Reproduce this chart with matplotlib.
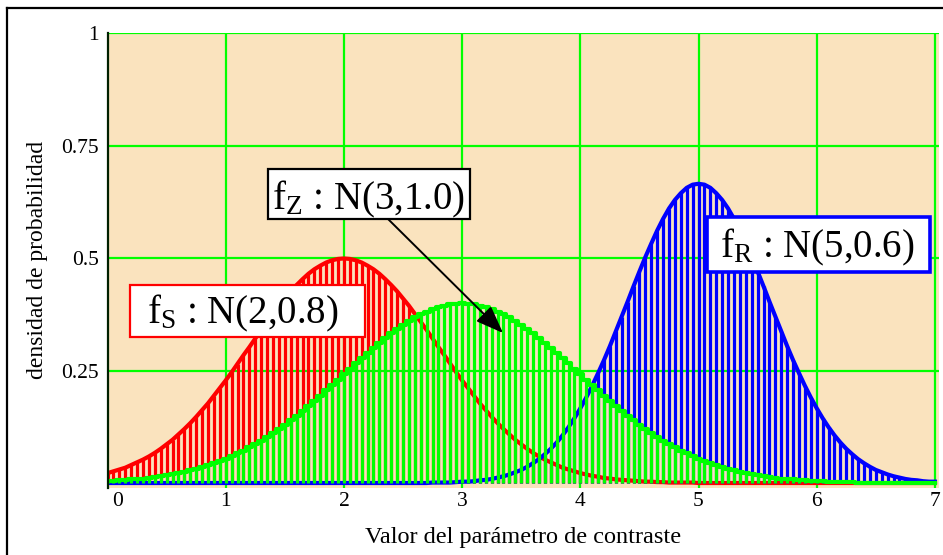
import numpy as np
import matplotlib
matplotlib.use("Agg")
import matplotlib.pyplot as plt
from matplotlib.lines import Line2D
from matplotlib.patches import Rectangle
from matplotlib.transforms import ScaledTranslation

plt.rcParams['font.family'] = ['Liberation Serif', 'DejaVu Serif']
plt.rcParams['mathtext.fontset'] = 'custom'
plt.rcParams['mathtext.rm'] = 'Liberation Serif'
plt.rcParams['mathtext.it'] = 'Liberation Serif:italic'

# Valores del parámetro de contraste (de 0 a 7 cada 0.05)
x_ini = 0.0
x_paso = 0.05

# f_S : N(2,0.8)
fS = [0.022, 0.026, 0.030, 0.034, 0.040, 0.046, 0.052, 0.059,
      0.067, 0.076, 0.086, 0.096, 0.108, 0.120, 0.133, 0.147, 0.162, 0.177,
      0.194, 0.211, 0.228, 0.246, 0.265, 0.284, 0.302, 0.321, 0.340, 0.358,
      0.376, 0.394, 0.410, 0.426, 0.440, 0.453, 0.465, 0.475, 0.483, 0.490,
      0.495, 0.498, 0.499, 0.498, 0.495, 0.490, 0.483, 0.475, 0.465, 0.453,
      0.440, 0.426, 0.410, 0.394, 0.376, 0.358, 0.340, 0.321, 0.302, 0.284,
      0.265, 0.246, 0.228, 0.211, 0.194, 0.177, 0.162, 0.147, 0.133, 0.120,
      0.108, 0.096, 0.086, 0.076, 0.067, 0.059, 0.052, 0.046, 0.040, 0.034,
      0.030, 0.026, 0.022, 0.019, 0.016, 0.014, 0.011, 0.010, 0.008, 0.007,
      0.006, 0.005, 0.004, 0.003, 0.003, 0.002, 0.002, 0.001, 0.001, 0.001,
      0.001, 0.001, 0.000, 0.000, 0.000, 0.000, 0.000, 0.000, 0.000, 0.000,
      0.000, 0.000, 0.000, 0.000, 0.000, 0.000, 0.000, 0.000, 0.000, 0.000,
      0.000, 0.000, 0.000, 0.000, 0.000, 0.000, 0.000, 0.000, 0.000, 0.000,
      0.000, 0.000, 0.000, 0.000, 0.000, 0.000, 0.000, 0.000, 0.000, 0.000,
      0.000, 0.000, 0.000]

# f_Z : N(3,1.0)
fZ = [0.004, 0.005, 0.006, 0.007, 0.008, 0.009, 0.010, 0.012,
      0.014, 0.015, 0.018, 0.020, 0.022, 0.025, 0.028, 0.032, 0.035, 0.040,
      0.044, 0.049, 0.054, 0.060, 0.066, 0.072, 0.079, 0.086, 0.094, 0.102,
      0.111, 0.120, 0.130, 0.139, 0.150, 0.160, 0.171, 0.183, 0.194, 0.206,
      0.218, 0.230, 0.242, 0.254, 0.266, 0.278, 0.290, 0.301, 0.312, 0.323,
      0.333, 0.343, 0.352, 0.361, 0.368, 0.375, 0.381, 0.387, 0.391, 0.394,
      0.397, 0.398, 0.399, 0.398, 0.397, 0.394, 0.391, 0.387, 0.381, 0.375,
      0.368, 0.361, 0.352, 0.343, 0.333, 0.323, 0.312, 0.301, 0.290, 0.278,
      0.266, 0.254, 0.242, 0.230, 0.218, 0.206, 0.194, 0.183, 0.171, 0.160,
      0.150, 0.139, 0.130, 0.120, 0.111, 0.102, 0.094, 0.086, 0.079, 0.072,
      0.066, 0.060, 0.054, 0.049, 0.044, 0.040, 0.035, 0.032, 0.028, 0.025,
      0.022, 0.020, 0.018, 0.015, 0.014, 0.012, 0.010, 0.009, 0.008, 0.007,
      0.006, 0.005, 0.004, 0.004, 0.003, 0.003, 0.002, 0.002, 0.002, 0.001,
      0.001, 0.001, 0.001, 0.001, 0.001, 0.001, 0.000, 0.000, 0.000, 0.000,
      0.000, 0.000, 0.000]

# f_R : N(5,0.6)
fR = [0.000] * 55 + [
      0.001, 0.001, 0.001, 0.001, 0.002, 0.003, 0.003, 0.004, 0.006, 0.007,
      0.009, 0.012, 0.015, 0.019, 0.024, 0.029, 0.036, 0.044, 0.053, 0.064,
      0.076, 0.090, 0.106, 0.124, 0.144, 0.166, 0.190, 0.216, 0.244, 0.273,
      0.304, 0.337, 0.370, 0.403, 0.437, 0.470, 0.502, 0.532, 0.561, 0.587,
      0.610, 0.629, 0.644, 0.656, 0.663, 0.665, 0.663, 0.656, 0.644, 0.629,
      0.610, 0.587, 0.561, 0.532, 0.502, 0.470, 0.437, 0.403, 0.370, 0.337,
      0.304, 0.273, 0.244, 0.216, 0.190, 0.166, 0.144, 0.124, 0.106, 0.090,
      0.076, 0.064, 0.053, 0.044, 0.036, 0.029, 0.024, 0.019, 0.015, 0.012,
      0.009, 0.007, 0.006, 0.004, 0.003, 0.003]

x = x_ini + x_paso * np.arange(len(fZ))

fondo = '#FAE3BE'
verde = '#00FF00'
W, H = 943, 555

fig = plt.figure(figsize=(9.43, 5.55), dpi=100)
ax = fig.add_axes([107.5 / W, 0.1216, 831 / W, 0.8189])
ax.set_facecolor(fondo)

# Rejilla verde
for xv in range(1, 8):
    ax.axvline(xv, color=verde, lw=1.6, zorder=1)
for yv in [0.25, 0.5, 0.75, 1.0]:
    ax.axhline(yv, color=verde, lw=1.6, zorder=1)

# Series (barras verticales + curva)
series = [(fS, '#FF0000', 2, 'default'), (fR, '#0000FF', 3, 'default'),
          (fZ, verde, 4, 'steps-mid')]
for y, c, z, ds in series:
    ax.vlines(x, 0, y, colors=c, lw=2.3, zorder=z)
    ax.plot(x, y, color=c, lw=3.0, drawstyle=ds, zorder=z)

ax.set_xlim(0, 7.03)
ax.set_ylim(-0.01, 1.0)
ax.set_xticks(range(0, 8))
ax.set_yticks([0.25, 0.5, 0.75, 1.0])
ax.set_yticklabels(['0.25', '0.5', '0.75', '1'])
ax.tick_params(length=0, labelsize=15.5, pad=6)
ax.tick_params(axis='x', pad=3)
# el "0" queda desplazado a la derecha del eje
etq0 = ax.get_xticklabels()[0]
etq0.set_transform(etq0.get_transform() + ScaledTranslation(0.105, 0, fig.dpi_scale_trans))
for s in ['top', 'right', 'bottom']:
    ax.spines[s].set_visible(False)
ax.spines['left'].set_color('#002000')
ax.spines['left'].set_linewidth(1.6)
ax.spines['left'].set_zorder(6)

ax.set_xlabel('Valor del parámetro de contraste', fontsize=17.5, labelpad=12)
ax.set_ylabel('densidad de probabilidad', fontsize=17, labelpad=10)

# Cuadros de texto (posiciones en pixeles de la figura)
cuadros = [
    (r'f$_\mathrm{S}$ : N(2,0.8)', (130, 285, 365, 337), 147, 323, '#FF0000', 1.6),
    (r'f$_\mathrm{Z}$ : N(3,1.0)', (268, 169, 470, 219), 272, 209, 'black', 1.6),
    (r'f$_\mathrm{R}$ : N(5,0.6)', (707, 217, 930, 272), 720, 257, '#0000FF', 2.6),
]
for txt, (x0, y0, x1, y1), tx, ty, ec, lw in cuadros:
    fig.add_artist(Rectangle((x0 / W, 1 - y1 / H), (x1 - x0) / W, (y1 - y0) / H,
                             transform=fig.transFigure, fc='white', ec=ec, lw=lw, zorder=10))
    fig.text(tx / W, 1 - ty / H, txt, fontsize=28, ha='left', va='baseline', zorder=11)

ax.annotate('', xy=(503, H - 333), xytext=(387, H - 218),
            xycoords='figure pixels', textcoords='figure pixels',
            arrowprops=dict(arrowstyle='-|>,head_length=1.7,head_width=0.65',
                            color='black', lw=1.4, shrinkA=0, shrinkB=0), zorder=11)

# Marco exterior
fig.add_artist(Line2D([7 / W, 7 / W], [0, 1 - 8 / H], color='black', lw=1.6))
fig.add_artist(Line2D([7 / W, 1], [1 - 8 / H, 1 - 8 / H], color='black', lw=1.6))

fig.savefig('out.png', dpi=100, facecolor='white')
